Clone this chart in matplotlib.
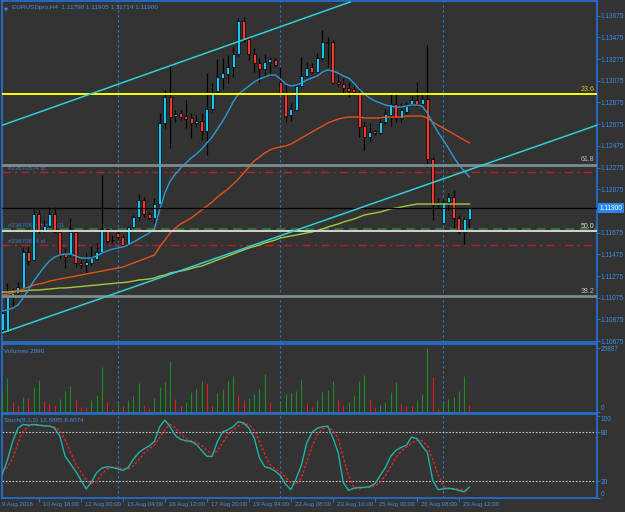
import numpy as np
import matplotlib.pyplot as plt
from matplotlib.transforms import blended_transform_factory

plt.rcParams['font.family'] = ['Liberation Sans', 'DejaVu Sans']

# EURUSDpro H4, bar 0 = 9 Aug 2016 08:00
bars = np.arange(1, 91)
opens = [1.10777, 1.10759, 1.11082, 1.11119, 1.11165, 1.11497, 1.11423, 1.11847, 1.11690, 1.11736,
         1.11847, 1.11681, 1.11478, 1.11478, 1.11681, 1.11395, 1.11377, 1.11395, 1.11432, 1.11497,
         1.11709, 1.11607, 1.11672, 1.11635, 1.11570, 1.11727, 1.11819, 1.11976, 1.11847, 1.11810,
         1.11939, 1.12686, 1.12926, 1.12750, 1.12778, 1.12750, 1.12732, 1.12686, 1.12704, 1.12612,
         1.12815, 1.12981, 1.13101, 1.13138, 1.13202, 1.13322, 1.13626, 1.13460, 1.13322, 1.13239,
         1.13184, 1.13248, 1.13267, 1.13064, 1.12963, 1.12760, 1.12806, 1.13027, 1.13119, 1.13202,
         1.13156, 1.13285, 1.13433, 1.13433, 1.13064, 1.13046, 1.13009, 1.12999, 1.12963, 1.12658,
         1.12557, 1.12612, 1.12594, 1.12695, 1.12760, 1.12861, 1.12732, 1.12787, 1.12861, 1.12898,
         1.12861, 1.12907, 1.12354, 1.11930, 1.11764, 1.11958, 1.12004, 1.11810, 1.11681, 1.11798]
highs = [1.10953, 1.11211, 1.11165, 1.11220, 1.11543, 1.11543, 1.11884, 1.11884, 1.11792, 1.11911,
         1.11911, 1.11690, 1.11533, 1.11810, 1.11690, 1.11423, 1.11487, 1.11552, 1.11580, 1.12206,
         1.11718, 1.11653, 1.11690, 1.11653, 1.11736, 1.11838, 1.12031, 1.12004, 1.11865, 1.11994,
         1.12778, 1.12990, 1.13221, 1.12806, 1.12806, 1.12898, 1.12778, 1.12760, 1.12778, 1.13147,
         1.13055, 1.13276, 1.13285, 1.13313, 1.13387, 1.13654, 1.13663, 1.13479, 1.13377, 1.13285,
         1.13322, 1.13294, 1.13285, 1.13202, 1.13036, 1.12870, 1.13055, 1.13294, 1.13248, 1.13239,
         1.13331, 1.13543, 1.13479, 1.13451, 1.13128, 1.13101, 1.13064, 1.13036, 1.13027, 1.12695,
         1.12686, 1.12621, 1.12741, 1.12815, 1.12963, 1.12963, 1.12870, 1.12880, 1.12935, 1.13064,
         1.12944, 1.13405, 1.12372, 1.11994, 1.11985, 1.12041, 1.12068, 1.11838, 1.11819, 1.11905]
lows = [1.10741, 1.10750, 1.10989, 1.11082, 1.11156, 1.11377, 1.11414, 1.11672, 1.11681, 1.11727,
        1.11672, 1.11441, 1.11349, 1.11450, 1.11358, 1.11349, 1.11303, 1.11377, 1.11423, 1.11487,
        1.11580, 1.11580, 1.11607, 1.11552, 1.11552, 1.11718, 1.11792, 1.11819, 1.11792, 1.11764,
        1.11911, 1.12640, 1.12455, 1.12695, 1.12714, 1.12640, 1.12548, 1.12649, 1.12529, 1.12391,
        1.12787, 1.12963, 1.12999, 1.13055, 1.13110, 1.13304, 1.13433, 1.13267, 1.13156, 1.13064,
        1.13110, 1.13119, 1.13202, 1.12953, 1.12695, 1.12704, 1.12797, 1.13009, 1.13110, 1.13138,
        1.13147, 1.13267, 1.13202, 1.13046, 1.13018, 1.12963, 1.12926, 1.12944, 1.12557, 1.12437,
        1.12520, 1.12575, 1.12585, 1.12677, 1.12658, 1.12695, 1.12695, 1.12769, 1.12843, 1.12843,
        1.12852, 1.12280, 1.11792, 1.11902, 1.11755, 1.11884, 1.11718, 1.11663, 1.11570, 1.11714]
closes = [1.10934, 1.11082, 1.11119, 1.11174, 1.11497, 1.11414, 1.11847, 1.11690, 1.11736, 1.11847,
          1.11681, 1.11478, 1.11450, 1.11681, 1.11395, 1.11377, 1.11404, 1.11441, 1.11497, 1.11709,
          1.11598, 1.11603, 1.11635, 1.11561, 1.11727, 1.11819, 1.11976, 1.11847, 1.11810, 1.11939,
          1.12686, 1.12926, 1.12741, 1.12769, 1.12741, 1.12723, 1.12686, 1.12704, 1.12612, 1.12815,
          1.12972, 1.13110, 1.13147, 1.13202, 1.13322, 1.13626, 1.13451, 1.13322, 1.13239, 1.13184,
          1.13248, 1.13276, 1.13221, 1.12963, 1.12750, 1.12815, 1.13027, 1.13119, 1.13193, 1.13156,
          1.13285, 1.13433, 1.13424, 1.13055, 1.13046, 1.13009, 1.12981, 1.12972, 1.12649, 1.12557,
          1.12603, 1.12594, 1.12695, 1.12769, 1.12861, 1.12732, 1.12806, 1.12843, 1.12898, 1.12861,
          1.12907, 1.12354, 1.11930, 1.11948, 1.11958, 1.12004, 1.11810, 1.11681, 1.11801, 1.11900]

ma_fast = [1.10953, 1.10962, 1.10980, 1.11008, 1.11072, 1.11146, 1.11229, 1.11294, 1.11358, 1.11414,
           1.11450, 1.11469, 1.11478, 1.11478, 1.11460, 1.11441, 1.11441, 1.11441, 1.11460, 1.11487,
           1.11506, 1.11524, 1.11533, 1.11543, 1.11561, 1.11589, 1.11616, 1.11644, 1.11672, 1.11709,
           1.11884, 1.12041, 1.12151, 1.12216, 1.12271, 1.12317, 1.12363, 1.12400, 1.12446, 1.12502,
           1.12557, 1.12631, 1.12704, 1.12787, 1.12880, 1.12953, 1.12990, 1.13027, 1.13064, 1.13092,
           1.13110, 1.13128, 1.13128, 1.13092, 1.13046, 1.13027, 1.13036, 1.13055, 1.13082, 1.13101,
           1.13119, 1.13156, 1.13175, 1.13165, 1.13147, 1.13119, 1.13101, 1.13055, 1.12999, 1.12953,
           1.12916, 1.12889, 1.12870, 1.12852, 1.12843, 1.12833, 1.12833, 1.12843, 1.12852, 1.12852,
           1.12843, 1.12778, 1.12686, 1.12603, 1.12529, 1.12455, 1.12372, 1.12299, 1.12243, 1.12188]
ma_mid = [1.11100, 1.11109, 1.11119, 1.11137, 1.11155, 1.11174, 1.11192, 1.11202, 1.11211, 1.11229,
          1.11238, 1.11248, 1.11257, 1.11266, 1.11275, 1.11284, 1.11294, 1.11303, 1.11312, 1.11321,
          1.11331, 1.11340, 1.11349, 1.11358, 1.11377, 1.11395, 1.11414, 1.11432, 1.11450, 1.11469,
          1.11543, 1.11607, 1.11672, 1.11718, 1.11755, 1.11782, 1.11810, 1.11847, 1.11884, 1.11921,
          1.11958, 1.12004, 1.12041, 1.12077, 1.12124, 1.12170, 1.12225, 1.12280, 1.12336, 1.12372,
          1.12409, 1.12437, 1.12455, 1.12465, 1.12474, 1.12492, 1.12520, 1.12548, 1.12575, 1.12603,
          1.12631, 1.12658, 1.12686, 1.12704, 1.12723, 1.12732, 1.12741, 1.12741, 1.12741, 1.12732,
          1.12732, 1.12732, 1.12732, 1.12741, 1.12741, 1.12741, 1.12741, 1.12750, 1.12750, 1.12750,
          1.12750, 1.12732, 1.12695, 1.12667, 1.12640, 1.12612, 1.12585, 1.12557, 1.12529, 1.12502]
ma_slow = [1.11128, 1.11128, 1.11132, 1.11137, 1.11137, 1.11142, 1.11146, 1.11146, 1.11151, 1.11155,
           1.11160, 1.11165, 1.11165, 1.11169, 1.11174, 1.11178, 1.11183, 1.11188, 1.11192, 1.11197,
           1.11202, 1.11206, 1.11211, 1.11215, 1.11220, 1.11229, 1.11238, 1.11243, 1.11248, 1.11257,
           1.11275, 1.11284, 1.11303, 1.11312, 1.11321, 1.11331, 1.11344, 1.11358, 1.11367, 1.11386,
           1.11404, 1.11423, 1.11441, 1.11460, 1.11478, 1.11497, 1.11515, 1.11533, 1.11547, 1.11561,
           1.11580, 1.11593, 1.11607, 1.11626, 1.11635, 1.11644, 1.11653, 1.11663, 1.11672, 1.11681,
           1.11695, 1.11709, 1.11727, 1.11741, 1.11755, 1.11773, 1.11787, 1.11801, 1.11819, 1.11838,
           1.11847, 1.11856, 1.11865, 1.11879, 1.11893, 1.11902, 1.11911, 1.11921, 1.11930, 1.11939,
           1.11939, 1.11939, 1.11939, 1.11939, 1.11939, 1.11939, 1.11939, 1.11939, 1.11939, 1.11939]

volumes = [8770, 13760, 4180, 2560, 6340, 5800, 10390, 13090, 4720, 3910,
           2830, 5260, 8630, 10660, 5400, 2290, 2020, 4990, 7010, 18210,
           4320, 1210, 3640, 2560, 4990, 6610, 12010, 2970, 1620, 5670,
           10390, 12410, 20770, 5400, 2700, 4180, 8230, 9580, 12550, 12010,
           2700, 7960, 9440, 12550, 14700, 7010, 4860, 5670, 7420, 9580,
           15650, 4180, 540, 3910, 7420, 7690, 8770, 13490, 3910, 2020,
           4860, 8230, 8900, 12820, 4990, 2970, 4320, 7010, 12550, 14970,
           5400, 2290, 2970, 4180, 8090, 12280, 3640, 2700, 2560, 4990,
           7280, 25897, 14430, 1890, 3640, 5260, 6340, 8630, 14700, 2890]

stoch_main = [27.9, 46, 68.6, 84.9, 89.5, 88.6, 89.5, 88.6, 87.6, 87.6,
              84.9, 75, 50.5, 41.4, 32.4, 21.5, 10.6, 18.8, 30.6, 36,
              37.8, 36.9, 35.1, 33.3, 36.9, 46.9, 55, 59.6, 63.2, 68.6,
              86.7, 94.9, 86.7, 75.9, 71.3, 69.5, 68.6, 65, 57.7, 50.5,
              50.5, 68.6, 80.4, 83.1, 86.7, 93.1, 91.3, 84.9, 73.2, 48.7,
              37.8, 36, 32.4, 27, 16.1, 9.7, 23.3, 39.6, 66.8, 79.5,
              84.9, 86.7, 87.6, 73.2, 55, 17.9, 8.8, 11.5, 12.4, 12.4,
              13.4, 17, 27, 36.9, 50.5, 57.7, 61.4, 64.1, 74.1, 72.2,
              63.2, 55, 21.5, 9.7, 10.6, 11.5, 10.6, 8.8, 7, 12.89]
stoch_signal = [32.4, 36.9, 47.8, 66.8, 81.3, 87.6, 89.5, 88.6, 88.6, 87.6,
                86.7, 82.2, 70.4, 55.9, 41.4, 31.5, 21.5, 17, 19.7, 28.8,
                35.1, 36.9, 36.9, 35.1, 35.1, 38.7, 46, 54.1, 59.6, 64.1,
                73.2, 83.1, 89.5, 85.8, 77.7, 72.2, 69.5, 67.7, 64.1, 57.7,
                53.2, 56.8, 66.8, 77.7, 83.1, 87.6, 90.4, 89.5, 83.1, 68.6,
                53.2, 40.5, 35.1, 31.5, 25.1, 17.9, 16.1, 24.2, 43.3, 62.3,
                76.8, 84, 86.7, 82.2, 72.2, 48.7, 27, 12.4, 10.6, 12.4,
                12.4, 14.3, 18.8, 27, 37.8, 48.7, 56.8, 61.4, 66.8, 70.4,
                69.5, 63.2, 46.9, 28.8, 14.3, 10.6, 10.6, 10.6, 8.8, 8.61]

# objects on the chart
upper_tl_x, upper_tl_y = [0.59, 67.3], [1.12658, 1.13802]
lower_tl_x, lower_tl_y = [0.59, 114.3], [1.10744, 1.12666]
fib_names = ['23.6', '61.8', '50.0', '38.2']
fib_prices = [1.12953, 1.12301, 1.11692, 1.11091]
order_names = ['#23670874 tp', '#23670874 buy 0.01', '#23670874 sl']
order_prices = [1.12234, 1.11706, 1.11558]
last_price = 1.11900
week_starts = [23, 54, 85]

price_ticks = [1.13675, 1.13475, 1.13275, 1.13075, 1.12875, 1.12675, 1.12475, 1.12275,
               1.12075, 1.11875, 1.11675, 1.11475, 1.11275, 1.11075, 1.10875, 1.10675]
date_bars = [0, 8, 16, 24, 32, 40, 48, 56, 64, 72, 80, 88]
date_labels = ['9 Aug 2016', '10 Aug 16:00', '12 Aug 00:00', '15 Aug 04:00', '16 Aug 12:00',
               '17 Aug 20:00', '19 Aug 04:00', '22 Aug 08:00', '23 Aug 16:00', '25 Aug 00:00',
               '26 Aug 08:00', '29 Aug 12:00']

W, H = 625, 512
BG = '#333333'
FRAME = '#2272d6'
TXT = '#3d8fe6'
FS = 4.7
XLIM = (0.97, 114.3)

fig = plt.figure(figsize=(W / 100, H / 100), dpi=100, facecolor=BG)


def panel(top, bottom):
    a = fig.add_axes([2 / W, 1 - bottom / H, 595 / W, (bottom - top) / H])
    a.set_facecolor(BG)
    for s in a.spines.values():
        s.set_color(FRAME)
        s.set_linewidth(1.2)
    a.set_xlim(*XLIM)
    a.set_xticks([])
    a.yaxis.tick_right()
    a.tick_params(axis='y', colors=FRAME, labelcolor=TXT, labelsize=FS,
                  length=2, width=0.8, pad=0.8)
    for sep in week_starts:
        a.axvline(sep, color='#1e7fe0', lw=0.8, ls=(0, (2, 2.5)), zorder=1)
    return a


# ---- main price panel ----
ax = panel(1, 342)
ax.set_ylim(1.106668, 1.138108)
ax.set_yticks(price_ticks)
ax.set_yticklabels(['%.5f' % p for p in price_ticks])

o, h, l, c = map(np.array, (opens, highs, lows, closes))
up = c >= o
body_col = np.where(up, '#17c6f2', '#f03a30')
ax.vlines(bars, l, h, color='black', lw=0.9, zorder=3)
ax.bar(bars, np.abs(c - o), bottom=np.minimum(o, c), width=0.6,
       color=body_col, edgecolor='black', linewidth=0.5, zorder=3.5)

ax.plot(bars, ma_slow, color='#a8c83c', lw=1, zorder=4)
ax.plot(bars, ma_mid, color='#e4521c', lw=1, zorder=4)
ax.plot(bars, ma_fast, color='#2a9ad6', lw=1, zorder=4)
ax.plot(upper_tl_x, upper_tl_y, color='#2fd0d8', lw=1.1, zorder=5)
ax.plot(lower_tl_x, lower_tl_y, color='#2fd0d8', lw=1.1, zorder=5)

fib_style = {'23.6': ('#ffff00', 1.4, '#dccc10'), '61.8': ('#7f8c8c', 2, '#b8c0c0'),
             '50.0': ('#d4d4d4', 1.4, '#e0e0e0'), '38.2': ('#7f8c8c', 2, '#b8c0c0')}
for name, p in zip(fib_names, fib_prices):
    lc, lw, tc = fib_style[name]
    ax.axhline(p, color=lc, lw=lw, zorder=4.5)
    ax.text(113.8, p + 0.00012, name, color=tc, fontsize=FS + 0.3, ha='right', va='bottom', zorder=6)

ax.axhline(order_prices[0], color='#b82222', lw=1, ls=(0, (6, 3, 1.5, 3)), zorder=2)
ax.axhline(order_prices[2], color='#b82222', lw=1, ls=(0, (6, 3, 1.5, 3)), zorder=2)
ax.axhline(order_prices[1], color='#2f7d2f', lw=1.3, ls=(0, (5, 3)), zorder=2)
for name, p in zip(order_names, order_prices):
    ax.text(2.2, p + 0.00012, name, color='#3a78c8', fontsize=4.4, ha='left', va='bottom', zorder=1)

ax.axhline(last_price, color='black', lw=0.9, zorder=4.6)
tb = blended_transform_factory(ax.transAxes, ax.transData)
ax.text(1.004, last_price, '%.5f' % last_price, transform=tb, color='white', fontsize=FS,
        ha='left', va='center', zorder=10,
        bbox=dict(boxstyle='square,pad=0.2', fc='#2a86ee', ec='none'))

ax.text(0.004, 0.985, '\u25bc', transform=ax.transAxes, color=TXT, fontsize=3.8,
        ha='left', va='top', family=['DejaVu Sans'])
ax.text(0.017, 0.988, 'EURUSDpro,H4  1.11798 1.11905 1.11714 1.11900', transform=ax.transAxes,
        color=TXT, fontsize=4.6, ha='left', va='top')

# ---- volume panel ----
axv = panel(344, 413)
axv.set_ylim(-283, 27635)
axv.set_yticks([0, 25897])
axv.set_yticklabels(['0', '25897'])
axv.get_yticklabels()[0].set_va('bottom')
vol = np.array(volumes)
vcol = ['#1e8f1e'] + ['#1e8f1e' if vol[i] > vol[i - 1] else '#e01c1c' for i in range(1, len(vol))]
axv.vlines(bars, 0, vol, colors=vcol, lw=0.8, zorder=3)
axv.text(0.004, 0.93, 'Volumes 2890', transform=axv.transAxes, color=TXT,
         fontsize=4.6, ha='left', va='top')

# ---- stochastic panel ----
axs = panel(414, 498)
axs.set_ylim(-0.5, 102.3)
axs.set_yticks([0, 20, 80, 100])
axs.set_yticklabels(['0', '20', '80', '100'])
axs.get_yticklabels()[0].set_va('bottom')
axs.get_yticklabels()[3].set_va('top')
axs.axhline(80, color='#c8c8c8', lw=0.8, ls=(0, (1.5, 1.5)), zorder=2)
axs.axhline(20, color='#c8c8c8', lw=0.8, ls=(0, (1.5, 1.5)), zorder=2)
axs.plot(bars, stoch_signal, color='#ff2020', lw=0.9, ls=(0, (2, 1.5)), zorder=3)
axs.plot(bars, stoch_main, color='#20b2aa', lw=1, zorder=4)
axs.text(0.004, 0.95, 'Stoch(8,3,3) 12.8885 8.6074', transform=axs.transAxes, color=TXT,
         fontsize=4.5, ha='left', va='top')

axs.set_xticks([b for b in date_bars if b > XLIM[0]])
axs.tick_params(axis='x', colors=FRAME, length=3, width=0.8, labelbottom=False)
tx = blended_transform_factory(axs.transData, axs.transAxes)
for b, lab in zip(date_bars, date_labels):
    axs.text(max(b + 0.8, XLIM[0] + 0.05), -0.075, lab, transform=tx, color=TXT,
             fontsize=4.4, ha='left', va='center', clip_on=False)

fig.savefig('out.png', dpi=100, facecolor=BG)
